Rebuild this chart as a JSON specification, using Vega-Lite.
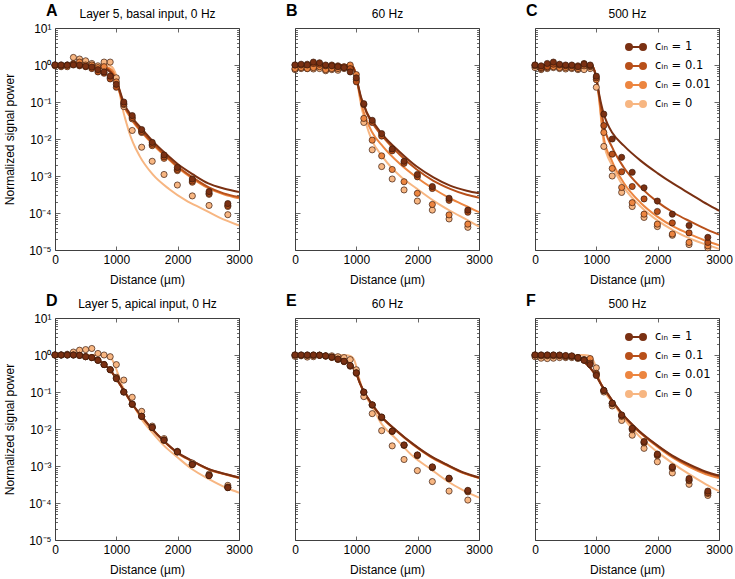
{
"$schema": "https://vega.github.io/schema/vega-lite/v6.json",
"background": "white",
"padding": {"left": 2, "top": 2, "right": 4, "bottom": 4},
"spacing": 6,
"config": {
  "font": "Liberation Sans",
  "view": {"stroke": "#404040", "strokeWidth": 1},
  "axis": {"domain": false, "grid": false, "labelFontSize": 12, "labelColor": "#000", "titleFontSize": 12, "titleFontWeight": "normal", "titleColor": "#000", "tickColor": "#404040", "tickWidth": 0.8, "labelOverlap": false, "labelFlush": false},
  "axisBottom": {"tickSize": -4, "labelPadding": 8, "titlePadding": 9, "format": "d"},
  "axisTop": {"labels": false, "tickSize": -4, "titlePadding": 7},
  "axisLeft": {"labelExpr": "datum.value == 10 ? '10¹' : datum.value == 1 ? '10⁰' : datum.value == 0.1 ? '10⁻¹' : datum.value == 0.01 ? '10⁻²' : datum.value == 0.001 ? '10⁻³' : datum.value == 0.0001 ? '10⁻⁴' : datum.value == 0.00001 ? '10⁻⁵' : ''", "tickSize": {"condition": {"test": "indexof([0.00001,0.0001,0.001,0.01,0.1,1,10], datum.value) >= 0", "value": -5}, "value": -2.5}, "labelPadding": 9, "titlePadding": 12},
  "axisRight": {"labels": false, "tickSize": {"condition": {"test": "indexof([0.00001,0.0001,0.001,0.01,0.1,1,10], datum.value) >= 0", "value": -5}, "value": -2.5}},
  "title": {"fontSize": 16, "fontWeight": "bold", "anchor": "start", "frame": "group", "dx": -9, "offset": -11, "color": "#000"},
  "legend": {"labelFontSize": 11.5, "labelColor": "#000", "labelFont": "DejaVu Sans"},
  "line": {"interpolate": "monotone", "strokeWidth": 2, "clip": true},
  "circle": {"size": 38, "stroke": "#3b1a0b", "strokeWidth": 0.7, "opacity": 1, "clip": true}
},
"resolve": {"legend": {"color": "independent"}},
"vconcat": [
{"hconcat": [
{
 "width": 184, "height": 222,
 "title": {"text": "A"},
 "layer": [
  {"data": {"values": [
   {"c":"0","x":0,"y":1},{"c":"0","x":850,"y":1},{"c":"0","x":900,"y":0.95},{"c":"0","x":950,"y":0.8},{"c":"0","x":1000,"y":0.5},{"c":"0","x":1040,"y":0.25},{"c":"0","x":1081,"y":0.1},{"c":"0","x":1120,"y":0.05},{"c":"0","x":1162,"y":0.028},{"c":"0","x":1210,"y":0.015},{"c":"0","x":1270,"y":0.0081},{"c":"0","x":1378,"y":0.0035},{"c":"0","x":1593,"y":0.0011},{"c":"0","x":1864,"y":0.00044},{"c":"0","x":2134,"y":0.00022},{"c":"0","x":2404,"y":0.00013},{"c":"0","x":2674,"y":0.000076},{"c":"0","x":3000,"y":0.000046},
   {"c":"0.01","x":0,"y":1},{"c":"0.01","x":600,"y":0.98},{"c":"0.01","x":800,"y":0.9},{"c":"0.01","x":900,"y":0.8},{"c":"0.01","x":950,"y":0.65},{"c":"0.01","x":1000,"y":0.4},{"c":"0.01","x":1050,"y":0.19},{"c":"0.01","x":1100,"y":0.1},{"c":"0.01","x":1150,"y":0.062},{"c":"0.01","x":1200,"y":0.045},{"c":"0.01","x":1300,"y":0.025},{"c":"0.01","x":1400,"y":0.016},{"c":"0.01","x":1600,"y":0.007},{"c":"0.01","x":1800,"y":0.0034},{"c":"0.01","x":2000,"y":0.0017},{"c":"0.01","x":2250,"y":0.00084},{"c":"0.01","x":2500,"y":0.00047},{"c":"0.01","x":2750,"y":0.00032},{"c":"0.01","x":3000,"y":0.00025},
   {"c":"0.1","x":0,"y":1},{"c":"0.1","x":400,"y":1},{"c":"0.1","x":600,"y":0.97},{"c":"0.1","x":700,"y":0.93},{"c":"0.1","x":800,"y":0.85},{"c":"0.1","x":900,"y":0.7},{"c":"0.1","x":950,"y":0.55},{"c":"0.1","x":1000,"y":0.38},{"c":"0.1","x":1050,"y":0.2},{"c":"0.1","x":1100,"y":0.11},{"c":"0.1","x":1150,"y":0.068},{"c":"0.1","x":1200,"y":0.05},{"c":"0.1","x":1300,"y":0.027},{"c":"0.1","x":1400,"y":0.017},{"c":"0.1","x":1600,"y":0.0075},{"c":"0.1","x":1800,"y":0.0036},{"c":"0.1","x":2000,"y":0.0018},{"c":"0.1","x":2250,"y":0.0009},{"c":"0.1","x":2500,"y":0.0005},{"c":"0.1","x":2750,"y":0.00034},{"c":"0.1","x":3000,"y":0.00027},
   {"c":"1","x":0,"y":1},{"c":"1","x":400,"y":1},{"c":"1","x":600,"y":0.97},{"c":"1","x":700,"y":0.92},{"c":"1","x":800,"y":0.82},{"c":"1","x":900,"y":0.65},{"c":"1","x":950,"y":0.52},{"c":"1","x":1000,"y":0.38},{"c":"1","x":1050,"y":0.22},{"c":"1","x":1100,"y":0.12},{"c":"1","x":1150,"y":0.075},{"c":"1","x":1200,"y":0.055},{"c":"1","x":1300,"y":0.031},{"c":"1","x":1400,"y":0.02},{"c":"1","x":1600,"y":0.0085},{"c":"1","x":1800,"y":0.0041},{"c":"1","x":2000,"y":0.0021},{"c":"1","x":2250,"y":0.0011},{"c":"1","x":2500,"y":0.00063},{"c":"1","x":2750,"y":0.00046},{"c":"1","x":3000,"y":0.00037}
  ]},
  "mark": "line",
  "encoding": {
   "x": {"field": "x", "type": "quantitative", "scale": {"domain": [0, 3000], "nice": false, "zero": false}, "axis": {"orient": "bottom", "values": [0, 1000, 2000, 3000], "title": "Distance (µm)"}},
   "y": {"field": "y", "type": "quantitative", "scale": {"type": "log", "domain": [0.00001, 10], "nice": false}, "axis": {"orient": "left", "title": "Normalized signal power", "values": [0.00001,0.00002,0.00003,0.00004,0.00005,0.00006,0.00007,0.00008,0.00009,0.0001,0.0002,0.0003,0.0004,0.0005,0.0006,0.0007,0.0008,0.0009,0.001,0.002,0.003,0.004,0.005,0.006,0.007,0.008,0.009,0.01,0.02,0.03,0.04,0.05,0.06,0.07,0.08,0.09,0.1,0.2,0.3,0.4,0.5,0.6,0.7,0.8,0.9,1,2,3,4,5,6,7,8,9,10]}},
   "color": {"field": "c", "type": "nominal", "scale": {"domain": ["1", "0.1", "0.01", "0"], "range": ["#7a3012", "#b8501a", "#ec8540", "#f7b682"]}, "legend": null}
  }},
  {"data": {"values": [
   {"c":"0","x":0,"y":1},{"c":"0","x":100,"y":1},{"c":"0","x":200,"y":1},{"c":"0","x":300,"y":1.6},{"c":"0","x":400,"y":1.45},{"c":"0","x":500,"y":1.3},{"c":"0","x":600,"y":1.1},{"c":"0","x":700,"y":0.95},{"c":"0","x":800,"y":1.2},{"c":"0","x":900,"y":1.2},{"c":"0","x":1000,"y":0.45},{"c":"0","x":1122,"y":0.075},{"c":"0","x":1259,"y":0.017},{"c":"0","x":1413,"y":0.006},{"c":"0","x":1585,"y":0.0025},{"c":"0","x":1778,"y":0.0011},{"c":"0","x":1995,"y":0.00057},{"c":"0","x":2239,"y":0.00029},{"c":"0","x":2512,"y":0.00016},{"c":"0","x":2818,"y":0.00009},
   {"c":"0.01","x":0,"y":0.95},{"c":"0.01","x":100,"y":0.9},{"c":"0.01","x":200,"y":0.9},{"c":"0.01","x":300,"y":1.1},{"c":"0.01","x":400,"y":1.2},{"c":"0.01","x":500,"y":1},{"c":"0.01","x":600,"y":1},{"c":"0.01","x":700,"y":0.85},{"c":"0.01","x":800,"y":0.9},{"c":"0.01","x":900,"y":0.45},{"c":"0.01","x":1000,"y":0.35},{"c":"0.01","x":1122,"y":0.085},{"c":"0.01","x":1259,"y":0.035},{"c":"0.01","x":1413,"y":0.015},{"c":"0.01","x":1585,"y":0.0066},{"c":"0.01","x":1778,"y":0.003},{"c":"0.01","x":1995,"y":0.0014},{"c":"0.01","x":2239,"y":0.00068},{"c":"0.01","x":2512,"y":0.00032},{"c":"0.01","x":2818,"y":0.00015},
   {"c":"0.1","x":0,"y":1},{"c":"0.1","x":100,"y":0.95},{"c":"0.1","x":200,"y":1},{"c":"0.1","x":300,"y":1.05},{"c":"0.1","x":400,"y":0.95},{"c":"0.1","x":500,"y":0.9},{"c":"0.1","x":600,"y":0.8},{"c":"0.1","x":700,"y":0.65},{"c":"0.1","x":800,"y":0.6},{"c":"0.1","x":900,"y":0.42},{"c":"0.1","x":1000,"y":0.25},{"c":"0.1","x":1122,"y":0.09},{"c":"0.1","x":1259,"y":0.038},{"c":"0.1","x":1413,"y":0.016},{"c":"0.1","x":1585,"y":0.0072},{"c":"0.1","x":1778,"y":0.0033},{"c":"0.1","x":1995,"y":0.0015},{"c":"0.1","x":2239,"y":0.00073},{"c":"0.1","x":2512,"y":0.00034},{"c":"0.1","x":2818,"y":0.00016},
   {"c":"1","x":0,"y":1},{"c":"1","x":100,"y":1},{"c":"1","x":200,"y":0.98},{"c":"1","x":300,"y":1},{"c":"1","x":400,"y":1},{"c":"1","x":500,"y":0.92},{"c":"1","x":600,"y":0.88},{"c":"1","x":700,"y":0.75},{"c":"1","x":800,"y":0.65},{"c":"1","x":900,"y":0.5},{"c":"1","x":1000,"y":0.3},{"c":"1","x":1122,"y":0.1},{"c":"1","x":1259,"y":0.043},{"c":"1","x":1413,"y":0.018},{"c":"1","x":1585,"y":0.0081},{"c":"1","x":1778,"y":0.0037},{"c":"1","x":1995,"y":0.0017},{"c":"1","x":2239,"y":0.00083},{"c":"1","x":2512,"y":0.00038},{"c":"1","x":2818,"y":0.00018}
  ]},
  "mark": "circle",
  "encoding": {
   "x": {"field": "x", "type": "quantitative", "scale": {"domain": [0, 3000], "nice": false, "zero": false}, "axis": {"orient": "top", "values": [1000, 2000], "title": "Layer 5, basal input, 0 Hz"}},
   "y": {"field": "y", "type": "quantitative", "scale": {"type": "log", "domain": [0.00001, 10], "nice": false}, "axis": {"orient": "right", "title": null, "values": [0.00001,0.00002,0.00003,0.00004,0.00005,0.00006,0.00007,0.00008,0.00009,0.0001,0.0002,0.0003,0.0004,0.0005,0.0006,0.0007,0.0008,0.0009,0.001,0.002,0.003,0.004,0.005,0.006,0.007,0.008,0.009,0.01,0.02,0.03,0.04,0.05,0.06,0.07,0.08,0.09,0.1,0.2,0.3,0.4,0.5,0.6,0.7,0.8,0.9,1,2,3,4,5,6,7,8,9,10]}},
   "color": {"field": "c", "type": "nominal", "scale": {"domain": ["1", "0.1", "0.01", "0"], "range": ["#7a3012", "#b8501a", "#ec8540", "#f7b682"]}, "legend": null}
  }}
 ],
 "resolve": {"axis": {"x": "independent", "y": "independent"}}
},
{
 "width": 184, "height": 222,
 "title": {"text": "B"},
 "layer": [
  {"data": {"values": [
   {"c":"0","x":0,"y":1},{"c":"0","x":850,"y":1},{"c":"0","x":920,"y":0.97},{"c":"0","x":970,"y":0.75},{"c":"0","x":1010,"y":0.4},{"c":"0","x":1050,"y":0.15},{"c":"0","x":1100,"y":0.055},{"c":"0","x":1160,"y":0.025},{"c":"0","x":1250,"y":0.0095},{"c":"0","x":1435,"y":0.0032},{"c":"0","x":1713,"y":0.001},{"c":"0","x":1990,"y":0.00045},{"c":"0","x":2250,"y":0.00022},{"c":"0","x":2528,"y":0.000115},{"c":"0","x":2806,"y":0.000065},{"c":"0","x":3000,"y":0.000043},
   {"c":"0.01","x":0,"y":1},{"c":"0.01","x":850,"y":1},{"c":"0.01","x":920,"y":0.97},{"c":"0.01","x":970,"y":0.75},{"c":"0.01","x":1010,"y":0.4},{"c":"0.01","x":1050,"y":0.17},{"c":"0.01","x":1100,"y":0.07},{"c":"0.01","x":1160,"y":0.035},{"c":"0.01","x":1250,"y":0.016},{"c":"0.01","x":1435,"y":0.0062},{"c":"0.01","x":1713,"y":0.0021},{"c":"0.01","x":1990,"y":0.0009},{"c":"0.01","x":2250,"y":0.00046},{"c":"0.01","x":2528,"y":0.00025},{"c":"0.01","x":2806,"y":0.00015},{"c":"0.01","x":3000,"y":0.000105},
   {"c":"0.1","x":0,"y":1},{"c":"0.1","x":850,"y":1},{"c":"0.1","x":900,"y":0.97},{"c":"0.1","x":950,"y":0.85},{"c":"0.1","x":990,"y":0.55},{"c":"0.1","x":1030,"y":0.27},{"c":"0.1","x":1080,"y":0.12},{"c":"0.1","x":1130,"y":0.075},{"c":"0.1","x":1169,"y":0.05},{"c":"0.1","x":1300,"y":0.022},{"c":"0.1","x":1441,"y":0.011},{"c":"0.1","x":1713,"y":0.0037},{"c":"0.1","x":1985,"y":0.0015},{"c":"0.1","x":2257,"y":0.00074},{"c":"0.1","x":2529,"y":0.00045},{"c":"0.1","x":2800,"y":0.00031},{"c":"0.1","x":3000,"y":0.00026},
   {"c":"1","x":0,"y":1},{"c":"1","x":850,"y":1},{"c":"1","x":900,"y":0.97},{"c":"1","x":950,"y":0.85},{"c":"1","x":990,"y":0.55},{"c":"1","x":1030,"y":0.28},{"c":"1","x":1080,"y":0.13},{"c":"1","x":1130,"y":0.08},{"c":"1","x":1169,"y":0.053},{"c":"1","x":1300,"y":0.025},{"c":"1","x":1441,"y":0.0123},{"c":"1","x":1713,"y":0.0044},{"c":"1","x":1985,"y":0.0018},{"c":"1","x":2257,"y":0.00092},{"c":"1","x":2529,"y":0.00055},{"c":"1","x":2800,"y":0.0004},{"c":"1","x":3000,"y":0.00034}
  ]},
  "mark": "line",
  "encoding": {
   "x": {"field": "x", "type": "quantitative", "scale": {"domain": [0, 3000], "nice": false, "zero": false}, "axis": {"orient": "bottom", "values": [0, 1000, 2000, 3000], "title": "Distance (µm)"}},
   "y": {"field": "y", "type": "quantitative", "scale": {"type": "log", "domain": [0.00001, 10], "nice": false}, "axis": {"orient": "left", "labels": false, "title": null, "values": [0.00001,0.00002,0.00003,0.00004,0.00005,0.00006,0.00007,0.00008,0.00009,0.0001,0.0002,0.0003,0.0004,0.0005,0.0006,0.0007,0.0008,0.0009,0.001,0.002,0.003,0.004,0.005,0.006,0.007,0.008,0.009,0.01,0.02,0.03,0.04,0.05,0.06,0.07,0.08,0.09,0.1,0.2,0.3,0.4,0.5,0.6,0.7,0.8,0.9,1,2,3,4,5,6,7,8,9,10]}},
   "color": {"field": "c", "type": "nominal", "scale": {"domain": ["1", "0.1", "0.01", "0"], "range": ["#7a3012", "#b8501a", "#ec8540", "#f7b682"]}, "legend": null}
  }},
  {"data": {"values": [
   {"c":"0","x":0,"y":0.75},{"c":"0","x":100,"y":0.8},{"c":"0","x":200,"y":0.8},{"c":"0","x":300,"y":0.78},{"c":"0","x":400,"y":0.8},{"c":"0","x":500,"y":0.7},{"c":"0","x":600,"y":0.75},{"c":"0","x":700,"y":0.72},{"c":"0","x":800,"y":0.8},{"c":"0","x":900,"y":0.85},{"c":"0","x":1000,"y":0.4},{"c":"0","x":1122,"y":0.028},{"c":"0","x":1259,"y":0.0051},{"c":"0","x":1413,"y":0.0018},{"c":"0","x":1585,"y":0.00083},{"c":"0","x":1778,"y":0.00042},{"c":"0","x":1995,"y":0.00021},{"c":"0","x":2239,"y":0.00012},{"c":"0","x":2512,"y":0.000069},{"c":"0","x":2818,"y":0.000041},
   {"c":"0.01","x":0,"y":0.8},{"c":"0.01","x":100,"y":0.85},{"c":"0.01","x":200,"y":0.8},{"c":"0.01","x":300,"y":0.85},{"c":"0.01","x":400,"y":0.9},{"c":"0.01","x":500,"y":0.75},{"c":"0.01","x":600,"y":0.8},{"c":"0.01","x":700,"y":0.8},{"c":"0.01","x":800,"y":0.85},{"c":"0.01","x":900,"y":1},{"c":"0.01","x":1000,"y":0.55},{"c":"0.01","x":1122,"y":0.036},{"c":"0.01","x":1259,"y":0.0093},{"c":"0.01","x":1413,"y":0.0035},{"c":"0.01","x":1585,"y":0.0015},{"c":"0.01","x":1778,"y":0.0007},{"c":"0.01","x":1995,"y":0.00034},{"c":"0.01","x":2239,"y":0.00017},{"c":"0.01","x":2512,"y":0.000089},{"c":"0.01","x":2818,"y":0.00005},
   {"c":"0.1","x":0,"y":1},{"c":"0.1","x":100,"y":1},{"c":"0.1","x":200,"y":1.05},{"c":"0.1","x":300,"y":1.1},{"c":"0.1","x":400,"y":1.05},{"c":"0.1","x":500,"y":0.95},{"c":"0.1","x":600,"y":1},{"c":"0.1","x":700,"y":0.95},{"c":"0.1","x":800,"y":0.9},{"c":"0.1","x":900,"y":0.8},{"c":"0.1","x":1000,"y":0.35},{"c":"0.1","x":1122,"y":0.085},{"c":"0.1","x":1259,"y":0.028},{"c":"0.1","x":1413,"y":0.012},{"c":"0.1","x":1585,"y":0.0048},{"c":"0.1","x":1778,"y":0.0022},{"c":"0.1","x":1995,"y":0.00095},{"c":"0.1","x":2239,"y":0.00046},{"c":"0.1","x":2512,"y":0.00022},{"c":"0.1","x":2818,"y":0.000105},
   {"c":"1","x":0,"y":1},{"c":"1","x":100,"y":1.05},{"c":"1","x":200,"y":1},{"c":"1","x":300,"y":1.2},{"c":"1","x":400,"y":1.15},{"c":"1","x":500,"y":1},{"c":"1","x":600,"y":0.95},{"c":"1","x":700,"y":0.9},{"c":"1","x":800,"y":0.85},{"c":"1","x":900,"y":0.65},{"c":"1","x":1000,"y":0.45},{"c":"1","x":1122,"y":0.09},{"c":"1","x":1259,"y":0.032},{"c":"1","x":1413,"y":0.014},{"c":"1","x":1585,"y":0.0054},{"c":"1","x":1778,"y":0.0025},{"c":"1","x":1995,"y":0.0011},{"c":"1","x":2239,"y":0.00052},{"c":"1","x":2512,"y":0.00025},{"c":"1","x":2818,"y":0.00012}
  ]},
  "mark": "circle",
  "encoding": {
   "x": {"field": "x", "type": "quantitative", "scale": {"domain": [0, 3000], "nice": false, "zero": false}, "axis": {"orient": "top", "values": [1000, 2000], "title": "60 Hz"}},
   "y": {"field": "y", "type": "quantitative", "scale": {"type": "log", "domain": [0.00001, 10], "nice": false}, "axis": {"orient": "right", "title": null, "values": [0.00001,0.00002,0.00003,0.00004,0.00005,0.00006,0.00007,0.00008,0.00009,0.0001,0.0002,0.0003,0.0004,0.0005,0.0006,0.0007,0.0008,0.0009,0.001,0.002,0.003,0.004,0.005,0.006,0.007,0.008,0.009,0.01,0.02,0.03,0.04,0.05,0.06,0.07,0.08,0.09,0.1,0.2,0.3,0.4,0.5,0.6,0.7,0.8,0.9,1,2,3,4,5,6,7,8,9,10]}},
   "color": {"field": "c", "type": "nominal", "scale": {"domain": ["1", "0.1", "0.01", "0"], "range": ["#7a3012", "#b8501a", "#ec8540", "#f7b682"]}, "legend": null}
  }}
 ],
 "resolve": {"axis": {"x": "independent", "y": "independent"}}
},
{
 "width": 184, "height": 222,
 "title": {"text": "C"},
 "layer": [
  {"data": {"values": [
   {"c":"0","x":0,"y":1},{"c":"0","x":880,"y":1},{"c":"0","x":930,"y":0.95},{"c":"0","x":970,"y":0.7},{"c":"0","x":1010,"y":0.35},{"c":"0","x":1050,"y":0.1},{"c":"0","x":1085,"y":0.025},{"c":"0","x":1120,"y":0.008},{"c":"0","x":1257,"y":0.0019},{"c":"0","x":1448,"y":0.0005},{"c":"0","x":1721,"y":0.00015},{"c":"0","x":1995,"y":0.000063},{"c":"0","x":2268,"y":0.000033},{"c":"0","x":2541,"y":0.00002},{"c":"0","x":2814,"y":0.0000135},{"c":"0","x":3000,"y":0.0000107},
   {"c":"0.01","x":0,"y":1},{"c":"0.01","x":880,"y":1},{"c":"0.01","x":930,"y":0.95},{"c":"0.01","x":970,"y":0.7},{"c":"0.01","x":1010,"y":0.35},{"c":"0.01","x":1050,"y":0.11},{"c":"0.01","x":1085,"y":0.032},{"c":"0.01","x":1120,"y":0.011},{"c":"0.01","x":1257,"y":0.0025},{"c":"0.01","x":1448,"y":0.00065},{"c":"0.01","x":1721,"y":0.00019},{"c":"0.01","x":1995,"y":0.00008},{"c":"0.01","x":2268,"y":0.000042},{"c":"0.01","x":2541,"y":0.000026},{"c":"0.01","x":2814,"y":0.000017},{"c":"0.01","x":3000,"y":0.0000135},
   {"c":"0.1","x":0,"y":1},{"c":"0.1","x":880,"y":1},{"c":"0.1","x":930,"y":0.95},{"c":"0.1","x":970,"y":0.7},{"c":"0.1","x":1010,"y":0.35},{"c":"0.1","x":1050,"y":0.13},{"c":"0.1","x":1085,"y":0.055},{"c":"0.1","x":1120,"y":0.025},{"c":"0.1","x":1257,"y":0.006},{"c":"0.1","x":1448,"y":0.0017},{"c":"0.1","x":1721,"y":0.0005},{"c":"0.1","x":1995,"y":0.0002},{"c":"0.1","x":2268,"y":0.0001},{"c":"0.1","x":2541,"y":0.000058},{"c":"0.1","x":2814,"y":0.000035},{"c":"0.1","x":3000,"y":0.000026},
   {"c":"1","x":0,"y":1},{"c":"1","x":880,"y":1},{"c":"1","x":930,"y":0.95},{"c":"1","x":970,"y":0.7},{"c":"1","x":1010,"y":0.35},{"c":"1","x":1050,"y":0.15},{"c":"1","x":1085,"y":0.08},{"c":"1","x":1120,"y":0.048},{"c":"1","x":1180,"y":0.026},{"c":"1","x":1257,"y":0.015},{"c":"1","x":1448,"y":0.0066},{"c":"1","x":1721,"y":0.0026},{"c":"1","x":1995,"y":0.0012},{"c":"1","x":2268,"y":0.0006},{"c":"1","x":2541,"y":0.00032},{"c":"1","x":2814,"y":0.00017},{"c":"1","x":3000,"y":0.000115}
  ]},
  "mark": "line",
  "encoding": {
   "x": {"field": "x", "type": "quantitative", "scale": {"domain": [0, 3000], "nice": false, "zero": false}, "axis": {"orient": "bottom", "values": [0, 1000, 2000, 3000], "title": "Distance (µm)"}},
   "y": {"field": "y", "type": "quantitative", "scale": {"type": "log", "domain": [0.00001, 10], "nice": false}, "axis": {"orient": "left", "labels": false, "title": null, "values": [0.00001,0.00002,0.00003,0.00004,0.00005,0.00006,0.00007,0.00008,0.00009,0.0001,0.0002,0.0003,0.0004,0.0005,0.0006,0.0007,0.0008,0.0009,0.001,0.002,0.003,0.004,0.005,0.006,0.007,0.008,0.009,0.01,0.02,0.03,0.04,0.05,0.06,0.07,0.08,0.09,0.1,0.2,0.3,0.4,0.5,0.6,0.7,0.8,0.9,1,2,3,4,5,6,7,8,9,10]}},
   "color": {"field": "c", "type": "nominal", "scale": {"domain": ["1", "0.1", "0.01", "0"], "range": ["#7a3012", "#b8501a", "#ec8540", "#f7b682"]}, "legend": {"orient": "top-right", "title": null, "offset": 8, "symbolType": "M-0.7,0L0.7,0M-1,0A0.3,0.3,0,1,0,-0.4,0A0.3,0.3,0,1,0,-1,0M0.4,0A0.3,0.3,0,1,0,1,0A0.3,0.3,0,1,0,0.4,0", "symbolSize": 400, "symbolStrokeWidth": 2, "labelExpr": "'cᵢₙ = ' + datum.label", "rowPadding": 0, "labelOffset": 8, "padding": 0}}
  }},
  {"data": {"values": [
   {"c":"0","x":0,"y":0.85},{"c":"0","x":100,"y":0.75},{"c":"0","x":200,"y":0.8},{"c":"0","x":300,"y":0.85},{"c":"0","x":400,"y":0.8},{"c":"0","x":500,"y":0.78},{"c":"0","x":600,"y":0.8},{"c":"0","x":700,"y":0.75},{"c":"0","x":800,"y":0.75},{"c":"0","x":900,"y":0.8},{"c":"0","x":1000,"y":0.25},{"c":"0","x":1122,"y":0.0063},{"c":"0","x":1259,"y":0.001},{"c":"0","x":1413,"y":0.00036},{"c":"0","x":1585,"y":0.00015},{"c":"0","x":1778,"y":0.000076},{"c":"0","x":1995,"y":0.000043},{"c":"0","x":2239,"y":0.000025},{"c":"0","x":2512,"y":0.000014},{"c":"0","x":2818,"y":0.0000115},
   {"c":"0.01","x":0,"y":0.95},{"c":"0.01","x":100,"y":0.8},{"c":"0.01","x":200,"y":0.85},{"c":"0.01","x":300,"y":0.9},{"c":"0.01","x":400,"y":0.85},{"c":"0.01","x":500,"y":0.85},{"c":"0.01","x":600,"y":0.85},{"c":"0.01","x":700,"y":0.8},{"c":"0.01","x":800,"y":0.95},{"c":"0.01","x":900,"y":0.9},{"c":"0.01","x":1000,"y":0.4},{"c":"0.01","x":1122,"y":0.015},{"c":"0.01","x":1259,"y":0.0016},{"c":"0.01","x":1413,"y":0.00049},{"c":"0.01","x":1585,"y":0.00019},{"c":"0.01","x":1778,"y":0.000093},{"c":"0.01","x":1995,"y":0.00005},{"c":"0.01","x":2239,"y":0.000027},{"c":"0.01","x":2512,"y":0.000016},{"c":"0.01","x":2818,"y":0.000013},
   {"c":"0.1","x":0,"y":1},{"c":"0.1","x":100,"y":0.85},{"c":"0.1","x":200,"y":0.9},{"c":"0.1","x":300,"y":1.05},{"c":"0.1","x":400,"y":1},{"c":"0.1","x":500,"y":0.95},{"c":"0.1","x":600,"y":0.95},{"c":"0.1","x":700,"y":0.95},{"c":"0.1","x":800,"y":1.1},{"c":"0.1","x":900,"y":0.95},{"c":"0.1","x":1000,"y":0.45},{"c":"0.1","x":1122,"y":0.023},{"c":"0.1","x":1259,"y":0.0039},{"c":"0.1","x":1413,"y":0.0013},{"c":"0.1","x":1585,"y":0.00052},{"c":"0.1","x":1778,"y":0.00024},{"c":"0.1","x":1995,"y":0.00011},{"c":"0.1","x":2239,"y":0.000054},{"c":"0.1","x":2512,"y":0.000029},{"c":"0.1","x":2818,"y":0.000016},
   {"c":"1","x":0,"y":1},{"c":"1","x":100,"y":0.95},{"c":"1","x":200,"y":1.1},{"c":"1","x":300,"y":1.2},{"c":"1","x":400,"y":1.05},{"c":"1","x":500,"y":1},{"c":"1","x":600,"y":1},{"c":"1","x":700,"y":0.9},{"c":"1","x":800,"y":1.05},{"c":"1","x":900,"y":1},{"c":"1","x":1000,"y":0.5},{"c":"1","x":1122,"y":0.047},{"c":"1","x":1259,"y":0.01},{"c":"1","x":1413,"y":0.0032},{"c":"1","x":1585,"y":0.00126},{"c":"1","x":1778,"y":0.00048},{"c":"1","x":1995,"y":0.00021},{"c":"1","x":2239,"y":0.000093},{"c":"1","x":2512,"y":0.000046},{"c":"1","x":2818,"y":0.000022}
  ]},
  "mark": "circle",
  "encoding": {
   "x": {"field": "x", "type": "quantitative", "scale": {"domain": [0, 3000], "nice": false, "zero": false}, "axis": {"orient": "top", "values": [1000, 2000], "title": "500 Hz"}},
   "y": {"field": "y", "type": "quantitative", "scale": {"type": "log", "domain": [0.00001, 10], "nice": false}, "axis": {"orient": "right", "title": null, "values": [0.00001,0.00002,0.00003,0.00004,0.00005,0.00006,0.00007,0.00008,0.00009,0.0001,0.0002,0.0003,0.0004,0.0005,0.0006,0.0007,0.0008,0.0009,0.001,0.002,0.003,0.004,0.005,0.006,0.007,0.008,0.009,0.01,0.02,0.03,0.04,0.05,0.06,0.07,0.08,0.09,0.1,0.2,0.3,0.4,0.5,0.6,0.7,0.8,0.9,1,2,3,4,5,6,7,8,9,10]}},
   "color": {"field": "c", "type": "nominal", "scale": {"domain": ["1", "0.1", "0.01", "0"], "range": ["#7a3012", "#b8501a", "#ec8540", "#f7b682"]}, "legend": {"orient": "top-right", "title": null, "offset": 8, "symbolType": "M-0.7,0L0.7,0M-1,0A0.3,0.3,0,1,0,-0.4,0A0.3,0.3,0,1,0,-1,0M0.4,0A0.3,0.3,0,1,0,1,0A0.3,0.3,0,1,0,0.4,0", "symbolSize": 400, "symbolStrokeWidth": 2, "labelExpr": "'cᵢₙ = ' + datum.label", "rowPadding": 0, "labelOffset": 8, "padding": 0}}
  }}
 ],
 "resolve": {"axis": {"x": "independent", "y": "independent"}}
}
], "spacing": 56, "bounds": "flush", "resolve": {"legend": {"color": "independent"}}},
{"hconcat": [
{
 "width": 184, "height": 222,
 "title": {"text": "D"},
 "layer": [
  {"data": {"values": [
   {"c":"0","x":0,"y":1},{"c":"0","x":500,"y":1},{"c":"0","x":700,"y":1},{"c":"0","x":850,"y":0.95},{"c":"0","x":920,"y":0.8},{"c":"0","x":980,"y":0.5},{"c":"0","x":1030,"y":0.3},{"c":"0","x":1080,"y":0.17},{"c":"0","x":1122,"y":0.12},{"c":"0","x":1259,"y":0.05},{"c":"0","x":1405,"y":0.019},{"c":"0","x":1584,"y":0.0081},{"c":"0","x":1773,"y":0.0036},{"c":"0","x":2000,"y":0.0017},{"c":"0","x":2232,"y":0.00083},{"c":"0","x":2503,"y":0.00045},{"c":"0","x":2811,"y":0.00025},{"c":"0","x":3000,"y":0.00019},
   {"c":"0.01","x":0,"y":1},{"c":"0.01","x":300,"y":1},{"c":"0.01","x":400,"y":0.98},{"c":"0.01","x":500,"y":0.95},{"c":"0.01","x":600,"y":0.87},{"c":"0.01","x":700,"y":0.74},{"c":"0.01","x":800,"y":0.56},{"c":"0.01","x":900,"y":0.39},{"c":"0.01","x":1000,"y":0.23},{"c":"0.01","x":1122,"y":0.108},{"c":"0.01","x":1259,"y":0.047},{"c":"0.01","x":1405,"y":0.022},{"c":"0.01","x":1584,"y":0.0098},{"c":"0.01","x":1773,"y":0.0047},{"c":"0.01","x":2000,"y":0.0022},{"c":"0.01","x":2232,"y":0.00135},{"c":"0.01","x":2503,"y":0.0008},{"c":"0.01","x":2811,"y":0.00057},{"c":"0.01","x":3000,"y":0.00047},
   {"c":"0.1","x":0,"y":1},{"c":"0.1","x":300,"y":1},{"c":"0.1","x":400,"y":0.98},{"c":"0.1","x":500,"y":0.95},{"c":"0.1","x":600,"y":0.87},{"c":"0.1","x":700,"y":0.74},{"c":"0.1","x":800,"y":0.56},{"c":"0.1","x":900,"y":0.39},{"c":"0.1","x":1000,"y":0.23},{"c":"0.1","x":1122,"y":0.109},{"c":"0.1","x":1259,"y":0.0475},{"c":"0.1","x":1405,"y":0.0225},{"c":"0.1","x":1584,"y":0.0099},{"c":"0.1","x":1773,"y":0.00475},{"c":"0.1","x":2000,"y":0.00225},{"c":"0.1","x":2232,"y":0.00137},{"c":"0.1","x":2503,"y":0.00082},{"c":"0.1","x":2811,"y":0.00058},{"c":"0.1","x":3000,"y":0.00048},
   {"c":"1","x":0,"y":1},{"c":"1","x":300,"y":1},{"c":"1","x":400,"y":0.98},{"c":"1","x":500,"y":0.95},{"c":"1","x":600,"y":0.87},{"c":"1","x":700,"y":0.74},{"c":"1","x":800,"y":0.56},{"c":"1","x":900,"y":0.39},{"c":"1","x":1000,"y":0.23},{"c":"1","x":1122,"y":0.11},{"c":"1","x":1259,"y":0.048},{"c":"1","x":1405,"y":0.023},{"c":"1","x":1584,"y":0.01},{"c":"1","x":1773,"y":0.0048},{"c":"1","x":2000,"y":0.0023},{"c":"1","x":2232,"y":0.0014},{"c":"1","x":2503,"y":0.00083},{"c":"1","x":2811,"y":0.00059},{"c":"1","x":3000,"y":0.00049}
  ]},
  "mark": "line",
  "encoding": {
   "x": {"field": "x", "type": "quantitative", "scale": {"domain": [0, 3000], "nice": false, "zero": false}, "axis": {"orient": "bottom", "values": [0, 1000, 2000, 3000], "title": "Distance (µm)"}},
   "y": {"field": "y", "type": "quantitative", "scale": {"type": "log", "domain": [0.00001, 10], "nice": false}, "axis": {"orient": "left", "title": "Normalized signal power", "values": [0.00001,0.00002,0.00003,0.00004,0.00005,0.00006,0.00007,0.00008,0.00009,0.0001,0.0002,0.0003,0.0004,0.0005,0.0006,0.0007,0.0008,0.0009,0.001,0.002,0.003,0.004,0.005,0.006,0.007,0.008,0.009,0.01,0.02,0.03,0.04,0.05,0.06,0.07,0.08,0.09,0.1,0.2,0.3,0.4,0.5,0.6,0.7,0.8,0.9,1,2,3,4,5,6,7,8,9,10]}},
   "color": {"field": "c", "type": "nominal", "scale": {"domain": ["1", "0.1", "0.01", "0"], "range": ["#7a3012", "#b8501a", "#ec8540", "#f7b682"]}, "legend": null}
  }},
  {"data": {"values": [
   {"c":"0","x":0,"y":1},{"c":"0","x":100,"y":1},{"c":"0","x":200,"y":1.05},{"c":"0","x":300,"y":1.2},{"c":"0","x":400,"y":1.35},{"c":"0","x":500,"y":1.4},{"c":"0","x":600,"y":1.5},{"c":"0","x":700,"y":1.1},{"c":"0","x":800,"y":1},{"c":"0","x":900,"y":0.9},{"c":"0","x":1000,"y":0.55},{"c":"0","x":1122,"y":0.21},{"c":"0","x":1259,"y":0.072},{"c":"0","x":1413,"y":0.03},{"c":"0","x":1585,"y":0.012},{"c":"0","x":1778,"y":0.0055},{"c":"0","x":1995,"y":0.0025},{"c":"0","x":2239,"y":0.0012},{"c":"0","x":2512,"y":0.0006},{"c":"0","x":2818,"y":0.0003},
   {"c":"0.01","x":0,"y":1},{"c":"0.01","x":100,"y":1},{"c":"0.01","x":200,"y":1},{"c":"0.01","x":300,"y":1},{"c":"0.01","x":400,"y":0.97},{"c":"0.01","x":500,"y":0.9},{"c":"0.01","x":600,"y":0.85},{"c":"0.01","x":700,"y":0.72},{"c":"0.01","x":800,"y":0.55},{"c":"0.01","x":900,"y":0.4},{"c":"0.01","x":1000,"y":0.25},{"c":"0.01","x":1122,"y":0.1},{"c":"0.01","x":1259,"y":0.046},{"c":"0.01","x":1413,"y":0.022},{"c":"0.01","x":1585,"y":0.011},{"c":"0.01","x":1778,"y":0.005},{"c":"0.01","x":1995,"y":0.0024},{"c":"0.01","x":2239,"y":0.0011},{"c":"0.01","x":2512,"y":0.00056},{"c":"0.01","x":2818,"y":0.00027},
   {"c":"0.1","x":0,"y":1},{"c":"0.1","x":100,"y":1},{"c":"0.1","x":200,"y":1},{"c":"0.1","x":300,"y":1},{"c":"0.1","x":400,"y":0.98},{"c":"0.1","x":500,"y":0.9},{"c":"0.1","x":600,"y":0.85},{"c":"0.1","x":700,"y":0.72},{"c":"0.1","x":800,"y":0.55},{"c":"0.1","x":900,"y":0.4},{"c":"0.1","x":1000,"y":0.23},{"c":"0.1","x":1122,"y":0.1},{"c":"0.1","x":1259,"y":0.047},{"c":"0.1","x":1413,"y":0.022},{"c":"0.1","x":1585,"y":0.011},{"c":"0.1","x":1778,"y":0.005},{"c":"0.1","x":1995,"y":0.0024},{"c":"0.1","x":2239,"y":0.0011},{"c":"0.1","x":2512,"y":0.00055},{"c":"0.1","x":2818,"y":0.00026},
   {"c":"1","x":0,"y":1},{"c":"1","x":100,"y":1},{"c":"1","x":200,"y":1},{"c":"1","x":300,"y":1},{"c":"1","x":400,"y":0.98},{"c":"1","x":500,"y":0.9},{"c":"1","x":600,"y":0.85},{"c":"1","x":700,"y":0.72},{"c":"1","x":800,"y":0.55},{"c":"1","x":900,"y":0.4},{"c":"1","x":1000,"y":0.23},{"c":"1","x":1122,"y":0.1},{"c":"1","x":1259,"y":0.047},{"c":"1","x":1413,"y":0.022},{"c":"1","x":1585,"y":0.011},{"c":"1","x":1778,"y":0.005},{"c":"1","x":1995,"y":0.0024},{"c":"1","x":2239,"y":0.0011},{"c":"1","x":2512,"y":0.00055},{"c":"1","x":2818,"y":0.00026}
  ]},
  "mark": "circle",
  "encoding": {
   "x": {"field": "x", "type": "quantitative", "scale": {"domain": [0, 3000], "nice": false, "zero": false}, "axis": {"orient": "top", "values": [1000, 2000], "title": "Layer 5, apical input, 0 Hz"}},
   "y": {"field": "y", "type": "quantitative", "scale": {"type": "log", "domain": [0.00001, 10], "nice": false}, "axis": {"orient": "right", "title": null, "values": [0.00001,0.00002,0.00003,0.00004,0.00005,0.00006,0.00007,0.00008,0.00009,0.0001,0.0002,0.0003,0.0004,0.0005,0.0006,0.0007,0.0008,0.0009,0.001,0.002,0.003,0.004,0.005,0.006,0.007,0.008,0.009,0.01,0.02,0.03,0.04,0.05,0.06,0.07,0.08,0.09,0.1,0.2,0.3,0.4,0.5,0.6,0.7,0.8,0.9,1,2,3,4,5,6,7,8,9,10]}},
   "color": {"field": "c", "type": "nominal", "scale": {"domain": ["1", "0.1", "0.01", "0"], "range": ["#7a3012", "#b8501a", "#ec8540", "#f7b682"]}, "legend": null}
  }}
 ],
 "resolve": {"axis": {"x": "independent", "y": "independent"}}
},
{
 "width": 184, "height": 222,
 "title": {"text": "E"},
 "layer": [
  {"data": {"values": [
   {"c":"0","x":0,"y":1},{"c":"0","x":700,"y":1},{"c":"0","x":850,"y":0.98},{"c":"0","x":920,"y":0.9},{"c":"0","x":970,"y":0.7},{"c":"0","x":1005,"y":0.45},{"c":"0","x":1050,"y":0.22},{"c":"0","x":1100,"y":0.12},{"c":"0","x":1180,"y":0.065},{"c":"0","x":1255,"y":0.042},{"c":"0","x":1386,"y":0.016},{"c":"0","x":1658,"y":0.0052},{"c":"0","x":1929,"y":0.0018},{"c":"0","x":2201,"y":0.00085},{"c":"0","x":2473,"y":0.0004},{"c":"0","x":2745,"y":0.00022},{"c":"0","x":3000,"y":0.00014},
   {"c":"0.01","x":0,"y":1},{"c":"0.01","x":500,"y":1},{"c":"0.01","x":600,"y":0.96},{"c":"0.01","x":700,"y":0.88},{"c":"0.01","x":800,"y":0.76},{"c":"0.01","x":900,"y":0.56},{"c":"0.01","x":950,"y":0.45},{"c":"0.01","x":1005,"y":0.3},{"c":"0.01","x":1060,"y":0.17},{"c":"0.01","x":1114,"y":0.108},{"c":"0.01","x":1255,"y":0.046},{"c":"0.01","x":1386,"y":0.0235},{"c":"0.01","x":1658,"y":0.0087},{"c":"0.01","x":1929,"y":0.0037},{"c":"0.01","x":2201,"y":0.0018},{"c":"0.01","x":2473,"y":0.00104},{"c":"0.01","x":2745,"y":0.00064},{"c":"0.01","x":3000,"y":0.00047},
   {"c":"0.1","x":0,"y":1},{"c":"0.1","x":500,"y":1},{"c":"0.1","x":600,"y":0.96},{"c":"0.1","x":700,"y":0.88},{"c":"0.1","x":800,"y":0.76},{"c":"0.1","x":900,"y":0.56},{"c":"0.1","x":950,"y":0.45},{"c":"0.1","x":1005,"y":0.3},{"c":"0.1","x":1060,"y":0.17},{"c":"0.1","x":1114,"y":0.109},{"c":"0.1","x":1255,"y":0.0465},{"c":"0.1","x":1386,"y":0.0238},{"c":"0.1","x":1658,"y":0.0088},{"c":"0.1","x":1929,"y":0.0038},{"c":"0.1","x":2201,"y":0.00185},{"c":"0.1","x":2473,"y":0.00107},{"c":"0.1","x":2745,"y":0.00065},{"c":"0.1","x":3000,"y":0.00048},
   {"c":"1","x":0,"y":1},{"c":"1","x":500,"y":1},{"c":"1","x":600,"y":0.96},{"c":"1","x":700,"y":0.88},{"c":"1","x":800,"y":0.76},{"c":"1","x":900,"y":0.56},{"c":"1","x":950,"y":0.45},{"c":"1","x":1005,"y":0.3},{"c":"1","x":1060,"y":0.17},{"c":"1","x":1114,"y":0.11},{"c":"1","x":1255,"y":0.047},{"c":"1","x":1386,"y":0.024},{"c":"1","x":1658,"y":0.009},{"c":"1","x":1929,"y":0.0039},{"c":"1","x":2201,"y":0.0019},{"c":"1","x":2473,"y":0.0011},{"c":"1","x":2745,"y":0.00067},{"c":"1","x":3000,"y":0.00049}
  ]},
  "mark": "line",
  "encoding": {
   "x": {"field": "x", "type": "quantitative", "scale": {"domain": [0, 3000], "nice": false, "zero": false}, "axis": {"orient": "bottom", "values": [0, 1000, 2000, 3000], "title": "Distance (µm)"}},
   "y": {"field": "y", "type": "quantitative", "scale": {"type": "log", "domain": [0.00001, 10], "nice": false}, "axis": {"orient": "left", "labels": false, "title": null, "values": [0.00001,0.00002,0.00003,0.00004,0.00005,0.00006,0.00007,0.00008,0.00009,0.0001,0.0002,0.0003,0.0004,0.0005,0.0006,0.0007,0.0008,0.0009,0.001,0.002,0.003,0.004,0.005,0.006,0.007,0.008,0.009,0.01,0.02,0.03,0.04,0.05,0.06,0.07,0.08,0.09,0.1,0.2,0.3,0.4,0.5,0.6,0.7,0.8,0.9,1,2,3,4,5,6,7,8,9,10]}},
   "color": {"field": "c", "type": "nominal", "scale": {"domain": ["1", "0.1", "0.01", "0"], "range": ["#7a3012", "#b8501a", "#ec8540", "#f7b682"]}, "legend": null}
  }},
  {"data": {"values": [
   {"c":"0","x":0,"y":0.92},{"c":"0","x":100,"y":0.95},{"c":"0","x":200,"y":0.88},{"c":"0","x":300,"y":0.9},{"c":"0","x":400,"y":1},{"c":"0","x":500,"y":0.95},{"c":"0","x":600,"y":0.95},{"c":"0","x":700,"y":0.9},{"c":"0","x":800,"y":0.85},{"c":"0","x":900,"y":0.75},{"c":"0","x":1000,"y":0.4},{"c":"0","x":1122,"y":0.075},{"c":"0","x":1259,"y":0.026},{"c":"0","x":1413,"y":0.009},{"c":"0","x":1585,"y":0.0035},{"c":"0","x":1778,"y":0.0015},{"c":"0","x":1995,"y":0.00075},{"c":"0","x":2239,"y":0.00038},{"c":"0","x":2512,"y":0.00021},{"c":"0","x":2818,"y":0.00012},
   {"c":"0.01","x":0,"y":1},{"c":"0.01","x":100,"y":0.98},{"c":"0.01","x":200,"y":1},{"c":"0.01","x":300,"y":0.97},{"c":"0.01","x":400,"y":0.98},{"c":"0.01","x":500,"y":0.93},{"c":"0.01","x":600,"y":0.86},{"c":"0.01","x":700,"y":0.76},{"c":"0.01","x":800,"y":0.66},{"c":"0.01","x":900,"y":0.5},{"c":"0.01","x":1000,"y":0.32},{"c":"0.01","x":1122,"y":0.097},{"c":"0.01","x":1259,"y":0.044},{"c":"0.01","x":1413,"y":0.02},{"c":"0.01","x":1585,"y":0.0086},{"c":"0.01","x":1778,"y":0.0036},{"c":"0.01","x":1995,"y":0.0019},{"c":"0.01","x":2239,"y":0.0009},{"c":"0.01","x":2512,"y":0.00045},{"c":"0.01","x":2818,"y":0.0002},
   {"c":"0.1","x":0,"y":1},{"c":"0.1","x":100,"y":1},{"c":"0.1","x":200,"y":0.97},{"c":"0.1","x":300,"y":1},{"c":"0.1","x":400,"y":0.98},{"c":"0.1","x":500,"y":0.94},{"c":"0.1","x":600,"y":0.87},{"c":"0.1","x":700,"y":0.77},{"c":"0.1","x":800,"y":0.67},{"c":"0.1","x":900,"y":0.51},{"c":"0.1","x":1000,"y":0.33},{"c":"0.1","x":1122,"y":0.1},{"c":"0.1","x":1259,"y":0.045},{"c":"0.1","x":1413,"y":0.021},{"c":"0.1","x":1585,"y":0.0087},{"c":"0.1","x":1778,"y":0.0037},{"c":"0.1","x":1995,"y":0.00195},{"c":"0.1","x":2239,"y":0.00092},{"c":"0.1","x":2512,"y":0.00046},{"c":"0.1","x":2818,"y":0.00021},
   {"c":"1","x":0,"y":1},{"c":"1","x":100,"y":1},{"c":"1","x":200,"y":1},{"c":"1","x":300,"y":1},{"c":"1","x":400,"y":0.98},{"c":"1","x":500,"y":0.95},{"c":"1","x":600,"y":0.88},{"c":"1","x":700,"y":0.78},{"c":"1","x":800,"y":0.68},{"c":"1","x":900,"y":0.52},{"c":"1","x":1000,"y":0.33},{"c":"1","x":1122,"y":0.1},{"c":"1","x":1259,"y":0.045},{"c":"1","x":1413,"y":0.021},{"c":"1","x":1585,"y":0.0088},{"c":"1","x":1778,"y":0.0037},{"c":"1","x":1995,"y":0.002},{"c":"1","x":2239,"y":0.00095},{"c":"1","x":2512,"y":0.00047},{"c":"1","x":2818,"y":0.00022}
  ]},
  "mark": "circle",
  "encoding": {
   "x": {"field": "x", "type": "quantitative", "scale": {"domain": [0, 3000], "nice": false, "zero": false}, "axis": {"orient": "top", "values": [1000, 2000], "title": "60 Hz"}},
   "y": {"field": "y", "type": "quantitative", "scale": {"type": "log", "domain": [0.00001, 10], "nice": false}, "axis": {"orient": "right", "title": null, "values": [0.00001,0.00002,0.00003,0.00004,0.00005,0.00006,0.00007,0.00008,0.00009,0.0001,0.0002,0.0003,0.0004,0.0005,0.0006,0.0007,0.0008,0.0009,0.001,0.002,0.003,0.004,0.005,0.006,0.007,0.008,0.009,0.01,0.02,0.03,0.04,0.05,0.06,0.07,0.08,0.09,0.1,0.2,0.3,0.4,0.5,0.6,0.7,0.8,0.9,1,2,3,4,5,6,7,8,9,10]}},
   "color": {"field": "c", "type": "nominal", "scale": {"domain": ["1", "0.1", "0.01", "0"], "range": ["#7a3012", "#b8501a", "#ec8540", "#f7b682"]}, "legend": null}
  }}
 ],
 "resolve": {"axis": {"x": "independent", "y": "independent"}}
},
{
 "width": 184, "height": 222,
 "title": {"text": "F"},
 "layer": [
  {"data": {"values": [
   {"c":"0","x":0,"y":1},{"c":"0","x":800,"y":1},{"c":"0","x":870,"y":0.97},{"c":"0","x":920,"y":0.85},{"c":"0","x":970,"y":0.6},{"c":"0","x":1020,"y":0.32},{"c":"0","x":1070,"y":0.17},{"c":"0","x":1120,"y":0.11},{"c":"0","x":1257,"y":0.055},{"c":"0","x":1421,"y":0.022},{"c":"0","x":1694,"y":0.0065},{"c":"0","x":1967,"y":0.0026},{"c":"0","x":2240,"y":0.0012},{"c":"0","x":2514,"y":0.0006},{"c":"0","x":2787,"y":0.00032},{"c":"0","x":3000,"y":0.00021},
   {"c":"0.01","x":0,"y":1},{"c":"0.01","x":400,"y":1},{"c":"0.01","x":500,"y":0.97},{"c":"0.01","x":600,"y":0.9},{"c":"0.01","x":700,"y":0.8},{"c":"0.01","x":800,"y":0.65},{"c":"0.01","x":900,"y":0.45},{"c":"0.01","x":1000,"y":0.27},{"c":"0.01","x":1100,"y":0.14},{"c":"0.01","x":1148,"y":0.105},{"c":"0.01","x":1257,"y":0.058},{"c":"0.01","x":1421,"y":0.025},{"c":"0.01","x":1694,"y":0.0084},{"c":"0.01","x":1967,"y":0.0036},{"c":"0.01","x":2240,"y":0.0017},{"c":"0.01","x":2514,"y":0.00095},{"c":"0.01","x":2787,"y":0.0006},{"c":"0.01","x":3000,"y":0.00047},
   {"c":"0.1","x":0,"y":1},{"c":"0.1","x":400,"y":1},{"c":"0.1","x":500,"y":0.97},{"c":"0.1","x":600,"y":0.9},{"c":"0.1","x":700,"y":0.8},{"c":"0.1","x":800,"y":0.65},{"c":"0.1","x":900,"y":0.45},{"c":"0.1","x":1000,"y":0.27},{"c":"0.1","x":1100,"y":0.14},{"c":"0.1","x":1148,"y":0.108},{"c":"0.1","x":1257,"y":0.059},{"c":"0.1","x":1421,"y":0.0255},{"c":"0.1","x":1694,"y":0.0087},{"c":"0.1","x":1967,"y":0.0038},{"c":"0.1","x":2240,"y":0.00183},{"c":"0.1","x":2514,"y":0.00104},{"c":"0.1","x":2787,"y":0.00066},{"c":"0.1","x":3000,"y":0.00052},
   {"c":"1","x":0,"y":1},{"c":"1","x":400,"y":1},{"c":"1","x":500,"y":0.97},{"c":"1","x":600,"y":0.9},{"c":"1","x":700,"y":0.8},{"c":"1","x":800,"y":0.65},{"c":"1","x":900,"y":0.45},{"c":"1","x":1000,"y":0.27},{"c":"1","x":1100,"y":0.14},{"c":"1","x":1148,"y":0.11},{"c":"1","x":1257,"y":0.06},{"c":"1","x":1421,"y":0.026},{"c":"1","x":1694,"y":0.009},{"c":"1","x":1967,"y":0.0039},{"c":"1","x":2240,"y":0.0019},{"c":"1","x":2514,"y":0.0011},{"c":"1","x":2787,"y":0.0007},{"c":"1","x":3000,"y":0.00055}
  ]},
  "mark": "line",
  "encoding": {
   "x": {"field": "x", "type": "quantitative", "scale": {"domain": [0, 3000], "nice": false, "zero": false}, "axis": {"orient": "bottom", "values": [0, 1000, 2000, 3000], "title": "Distance (µm)"}},
   "y": {"field": "y", "type": "quantitative", "scale": {"type": "log", "domain": [0.00001, 10], "nice": false}, "axis": {"orient": "left", "labels": false, "title": null, "values": [0.00001,0.00002,0.00003,0.00004,0.00005,0.00006,0.00007,0.00008,0.00009,0.0001,0.0002,0.0003,0.0004,0.0005,0.0006,0.0007,0.0008,0.0009,0.001,0.002,0.003,0.004,0.005,0.006,0.007,0.008,0.009,0.01,0.02,0.03,0.04,0.05,0.06,0.07,0.08,0.09,0.1,0.2,0.3,0.4,0.5,0.6,0.7,0.8,0.9,1,2,3,4,5,6,7,8,9,10]}},
   "color": {"field": "c", "type": "nominal", "scale": {"domain": ["1", "0.1", "0.01", "0"], "range": ["#7a3012", "#b8501a", "#ec8540", "#f7b682"]}, "legend": {"orient": "top-right", "title": null, "offset": 8, "symbolType": "M-0.7,0L0.7,0M-1,0A0.3,0.3,0,1,0,-0.4,0A0.3,0.3,0,1,0,-1,0M0.4,0A0.3,0.3,0,1,0,1,0A0.3,0.3,0,1,0,0.4,0", "symbolSize": 400, "symbolStrokeWidth": 2, "labelExpr": "'cᵢₙ = ' + datum.label", "rowPadding": 0, "labelOffset": 8, "padding": 0}}
  }},
  {"data": {"values": [
   {"c":"0","x":0,"y":0.9},{"c":"0","x":100,"y":0.82},{"c":"0","x":200,"y":0.8},{"c":"0","x":300,"y":0.82},{"c":"0","x":400,"y":0.85},{"c":"0","x":500,"y":0.85},{"c":"0","x":600,"y":0.85},{"c":"0","x":700,"y":0.8},{"c":"0","x":800,"y":0.75},{"c":"0","x":900,"y":0.7},{"c":"0","x":1000,"y":0.45},{"c":"0","x":1122,"y":0.1},{"c":"0","x":1259,"y":0.042},{"c":"0","x":1413,"y":0.017},{"c":"0","x":1585,"y":0.0068},{"c":"0","x":1778,"y":0.003},{"c":"0","x":1995,"y":0.0013},{"c":"0","x":2239,"y":0.00065},{"c":"0","x":2512,"y":0.00032},{"c":"0","x":2818,"y":0.00016},
   {"c":"0.01","x":0,"y":1},{"c":"0.01","x":100,"y":0.95},{"c":"0.01","x":200,"y":0.95},{"c":"0.01","x":300,"y":0.95},{"c":"0.01","x":400,"y":0.95},{"c":"0.01","x":500,"y":0.9},{"c":"0.01","x":600,"y":0.92},{"c":"0.01","x":700,"y":0.85},{"c":"0.01","x":800,"y":0.75},{"c":"0.01","x":900,"y":0.8},{"c":"0.01","x":1000,"y":0.32},{"c":"0.01","x":1122,"y":0.11},{"c":"0.01","x":1259,"y":0.048},{"c":"0.01","x":1413,"y":0.022},{"c":"0.01","x":1585,"y":0.0095},{"c":"0.01","x":1778,"y":0.0042},{"c":"0.01","x":1995,"y":0.0019},{"c":"0.01","x":2239,"y":0.00086},{"c":"0.01","x":2512,"y":0.0004},{"c":"0.01","x":2818,"y":0.00018},
   {"c":"0.1","x":0,"y":1},{"c":"0.1","x":100,"y":1},{"c":"0.1","x":200,"y":1},{"c":"0.1","x":300,"y":1},{"c":"0.1","x":400,"y":0.98},{"c":"0.1","x":500,"y":0.95},{"c":"0.1","x":600,"y":0.92},{"c":"0.1","x":700,"y":0.85},{"c":"0.1","x":800,"y":0.72},{"c":"0.1","x":900,"y":0.6},{"c":"0.1","x":1000,"y":0.3},{"c":"0.1","x":1122,"y":0.11},{"c":"0.1","x":1259,"y":0.05},{"c":"0.1","x":1413,"y":0.023},{"c":"0.1","x":1585,"y":0.01},{"c":"0.1","x":1778,"y":0.0044},{"c":"0.1","x":1995,"y":0.002},{"c":"0.1","x":2239,"y":0.0009},{"c":"0.1","x":2512,"y":0.00042},{"c":"0.1","x":2818,"y":0.00019},
   {"c":"1","x":0,"y":1},{"c":"1","x":100,"y":1},{"c":"1","x":200,"y":1},{"c":"1","x":300,"y":1},{"c":"1","x":400,"y":1},{"c":"1","x":500,"y":0.97},{"c":"1","x":600,"y":0.95},{"c":"1","x":700,"y":0.85},{"c":"1","x":800,"y":0.72},{"c":"1","x":900,"y":0.55},{"c":"1","x":1000,"y":0.28},{"c":"1","x":1122,"y":0.11},{"c":"1","x":1259,"y":0.05},{"c":"1","x":1413,"y":0.024},{"c":"1","x":1585,"y":0.0105},{"c":"1","x":1778,"y":0.0046},{"c":"1","x":1995,"y":0.0021},{"c":"1","x":2239,"y":0.00095},{"c":"1","x":2512,"y":0.00046},{"c":"1","x":2818,"y":0.00021}
  ]},
  "mark": "circle",
  "encoding": {
   "x": {"field": "x", "type": "quantitative", "scale": {"domain": [0, 3000], "nice": false, "zero": false}, "axis": {"orient": "top", "values": [1000, 2000], "title": "500 Hz"}},
   "y": {"field": "y", "type": "quantitative", "scale": {"type": "log", "domain": [0.00001, 10], "nice": false}, "axis": {"orient": "right", "title": null, "values": [0.00001,0.00002,0.00003,0.00004,0.00005,0.00006,0.00007,0.00008,0.00009,0.0001,0.0002,0.0003,0.0004,0.0005,0.0006,0.0007,0.0008,0.0009,0.001,0.002,0.003,0.004,0.005,0.006,0.007,0.008,0.009,0.01,0.02,0.03,0.04,0.05,0.06,0.07,0.08,0.09,0.1,0.2,0.3,0.4,0.5,0.6,0.7,0.8,0.9,1,2,3,4,5,6,7,8,9,10]}},
   "color": {"field": "c", "type": "nominal", "scale": {"domain": ["1", "0.1", "0.01", "0"], "range": ["#7a3012", "#b8501a", "#ec8540", "#f7b682"]}, "legend": {"orient": "top-right", "title": null, "offset": 8, "symbolType": "M-0.7,0L0.7,0M-1,0A0.3,0.3,0,1,0,-0.4,0A0.3,0.3,0,1,0,-1,0M0.4,0A0.3,0.3,0,1,0,1,0A0.3,0.3,0,1,0,0.4,0", "symbolSize": 400, "symbolStrokeWidth": 2, "labelExpr": "'cᵢₙ = ' + datum.label", "rowPadding": 0, "labelOffset": 8, "padding": 0}}
  }}
 ],
 "resolve": {"axis": {"x": "independent", "y": "independent"}}
}
], "spacing": 56, "bounds": "flush", "resolve": {"legend": {"color": "independent"}}}
]
}
